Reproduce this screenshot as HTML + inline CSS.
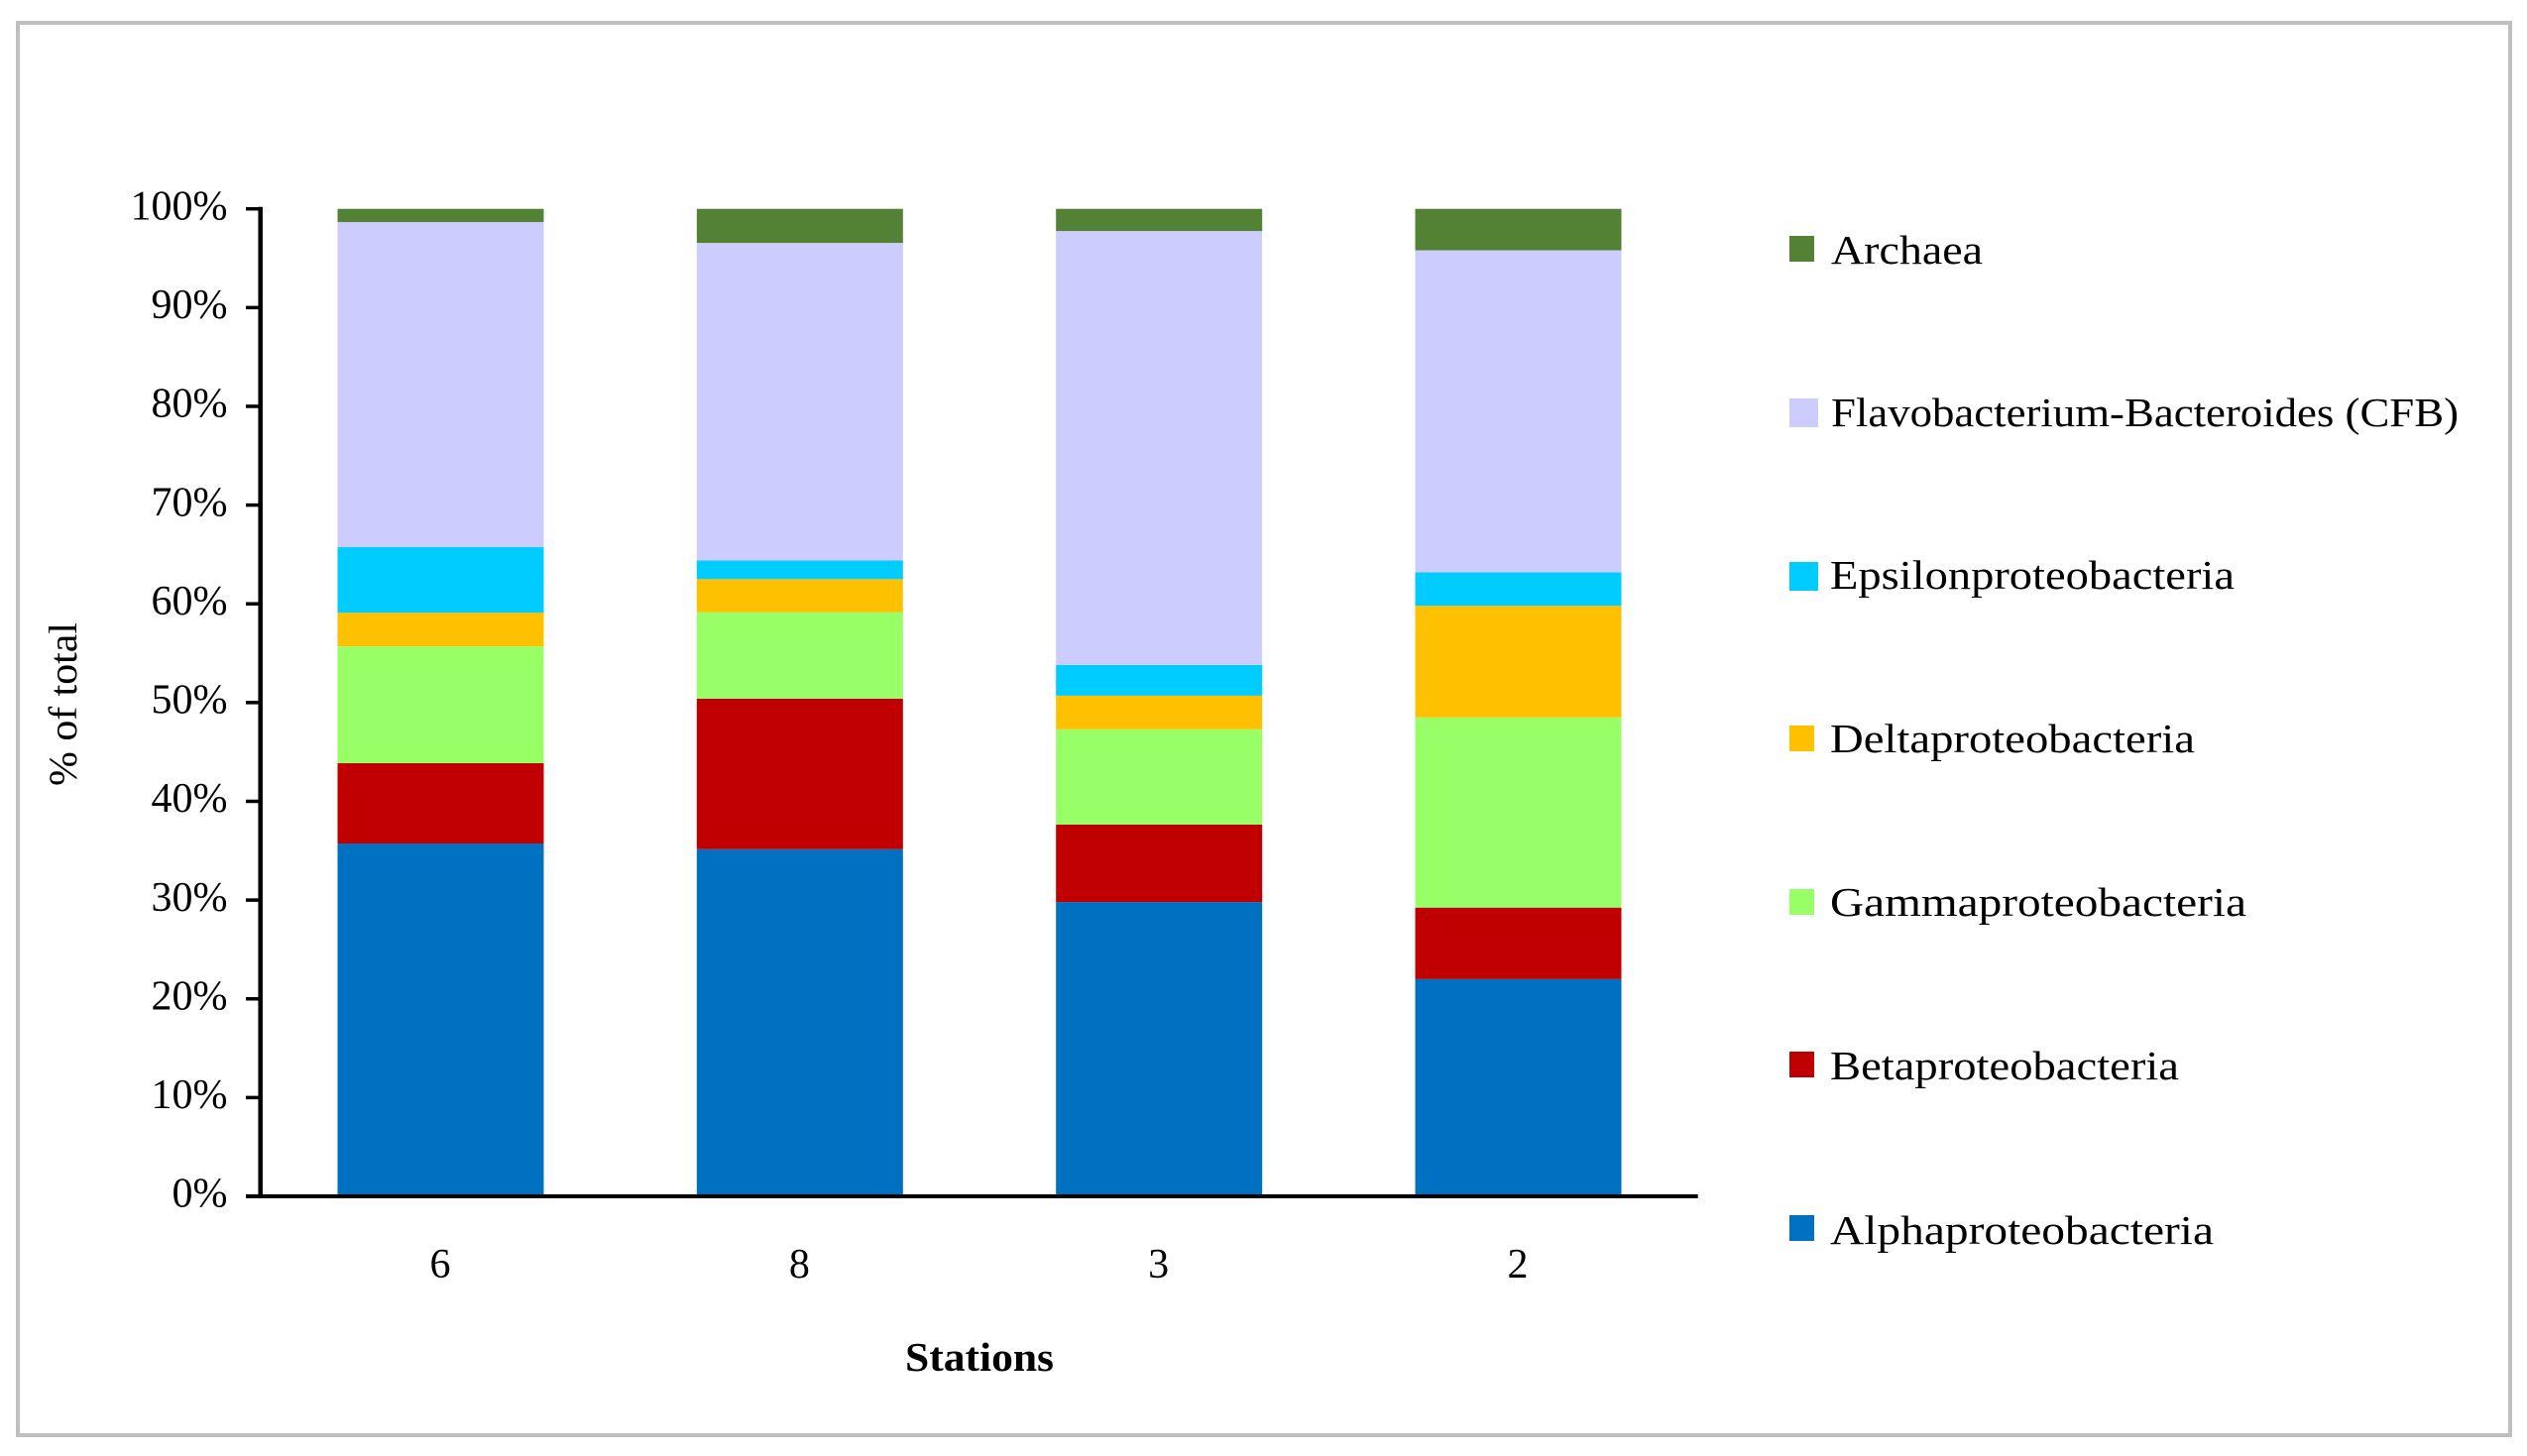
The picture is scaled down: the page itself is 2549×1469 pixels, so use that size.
<!DOCTYPE html>
<html lang="en">
<head>
<meta charset="utf-8">
<title>Stacked bar chart of bacterial groups by station</title>
<style>
html,body{margin:0;padding:0;background:#fff;width:2549px;height:1469px;overflow:hidden}
svg{display:block;font-family:"Liberation Serif",serif;fill:#000}
text{fill:#000}
</style>
</head>
<body>
<svg id="chart" xmlns="http://www.w3.org/2000/svg" width="2549" height="1469" viewBox="0 0 2549 1469">
  <rect x="18" y="23" width="2514" height="1425" fill="#fff" stroke="#BFBFBF" stroke-width="4"/>
  <g id="bars"></g>
  <g id="axes"></g>
  <text transform="translate(77,793) rotate(-90)" font-size="40" textLength="165" lengthAdjust="spacingAndGlyphs">% of total</text>
  <text x="913" y="1383" font-size="41" font-weight="bold" textLength="150" lengthAdjust="spacingAndGlyphs">Stations</text>
  <g font-size="41">
    <g>
      <rect x="1805" y="238" width="25" height="26" fill="#548235"/>
      <text x="1847" y="266" textLength="153" lengthAdjust="spacingAndGlyphs">Archaea</text>
    </g>
    <g>
      <rect x="1805" y="402" width="29" height="29" fill="#CCCCFF"/>
      <text x="1847" y="430" textLength="633" lengthAdjust="spacingAndGlyphs">Flavobacterium-Bacteroides (CFB)</text>
    </g>
    <g>
      <rect x="1805" y="567" width="29" height="29" fill="#00CCFF"/>
      <text x="1846" y="594" textLength="408" lengthAdjust="spacingAndGlyphs">Epsilonproteobacteria</text>
    </g>
    <g>
      <rect x="1805" y="732" width="25" height="26" fill="#FFC000"/>
      <text x="1846" y="759" textLength="368" lengthAdjust="spacingAndGlyphs">Deltaproteobacteria</text>
    </g>
    <g>
      <rect x="1805" y="897" width="25" height="26" fill="#99FF66"/>
      <text x="1846" y="924" textLength="420" lengthAdjust="spacingAndGlyphs">Gammaproteobacteria</text>
    </g>
    <g>
      <rect x="1805" y="1061" width="25" height="26" fill="#C00000"/>
      <text x="1846" y="1089" textLength="352" lengthAdjust="spacingAndGlyphs">Betaproteobacteria</text>
    </g>
    <g>
      <rect x="1805" y="1226" width="25" height="26" fill="#0070C0"/>
      <text x="1846" y="1255" textLength="387" lengthAdjust="spacingAndGlyphs">Alphaproteobacteria</text>
    </g>
  </g>
</svg>
<script>
const stations = ['6', '8', '3', '2'];
const alphaproteobacteria = [35.73, 35.15, 29.8, 22.0];
const betaproteobacteria = [8.13, 15.25, 7.84, 7.24];
const gammaproteobacteria = [11.84, 8.75, 9.66, 19.26];
const deltaproteobacteria = [3.4, 3.35, 3.4, 11.3];
const epsilonproteobacteria = [6.64, 1.9, 3.1, 3.4];
const flavobacteriumBacteroides = [32.92, 32.15, 43.95, 32.6];
const archaea = [1.34, 3.45, 2.25, 4.2];
const yTickValues = [0, 10, 20, 30, 40, 50, 60, 70, 80, 90, 100];

const seriesList = [
  { key: 'alpha', values: alphaproteobacteria, color: '#0070C0' },
  { key: 'beta', values: betaproteobacteria, color: '#C00000' },
  { key: 'gamma', values: gammaproteobacteria, color: '#99FF66' },
  { key: 'delta', values: deltaproteobacteria, color: '#FFC000' },
  { key: 'epsilon', values: epsilonproteobacteria, color: '#00CCFF' },
  { key: 'cfb', values: flavobacteriumBacteroides, color: '#CCCCFF' },
  { key: 'archaea', values: archaea, color: '#548235' }
];

const NS = 'http://www.w3.org/2000/svg';
const plotLeft = 263.3, plotRight = 1712.7, plotBottom = 1207, plotTop = 210.7;
const barWidth = 208;
const yScale = v => plotBottom - (v / 100) * (plotBottom - plotTop);
const xCenter = i => plotLeft + (i + 0.5) * (plotRight - plotLeft) / stations.length;

function make(tag, attrs, parent) {
  const el = document.createElementNS(NS, tag);
  for (const k in attrs) el.setAttribute(k, attrs[k]);
  parent.appendChild(el);
  return el;
}

const barsGroup = document.getElementById('bars');
stations.forEach((station, i) => {
  let cumulative = 0;
  seriesList.forEach(series => {
    const v = series.values[i];
    const yTop = yScale(cumulative + v);
    const yBottom = yScale(cumulative);
    const rect = make('rect', { x: xCenter(i) - barWidth / 2, y: yTop, width: barWidth, height: yBottom - yTop, fill: series.color }, barsGroup);
    
    
    cumulative += v;
  });
});

const axesGroup = document.getElementById('axes');
const yAxisLine = make('line', { x1: 262.7, x2: 262.7, y1: yScale(100) - 2, y2: yScale(0) + 2, stroke: '#000', 'stroke-width': 4.5 }, axesGroup);


const xAxisLine = make('line', { x1: 248, x2: plotRight, y1: yScale(0), y2: yScale(0), stroke: '#000', 'stroke-width': 4 }, axesGroup);



yTickValues.forEach(t => {
  const y = yScale(t);
  const tick = make('line', { x1: 248, x2: 263, y1: y, y2: y, stroke: '#000', 'stroke-width': 3.5 }, axesGroup);
  
  
  const label = make('text', { x: 229.5, y: y + 10.7, 'font-size': 42, 'text-anchor': 'end' }, axesGroup);
  label.textContent = t + '%';
  
  
});

stations.forEach((station, i) => {
  const label = make('text', { x: xCenter(i) - 0.5, y: 1289, 'font-size': 42, 'text-anchor': 'middle' }, axesGroup);
  label.textContent = station;
  
  
});
</script>
</body>
</html>
